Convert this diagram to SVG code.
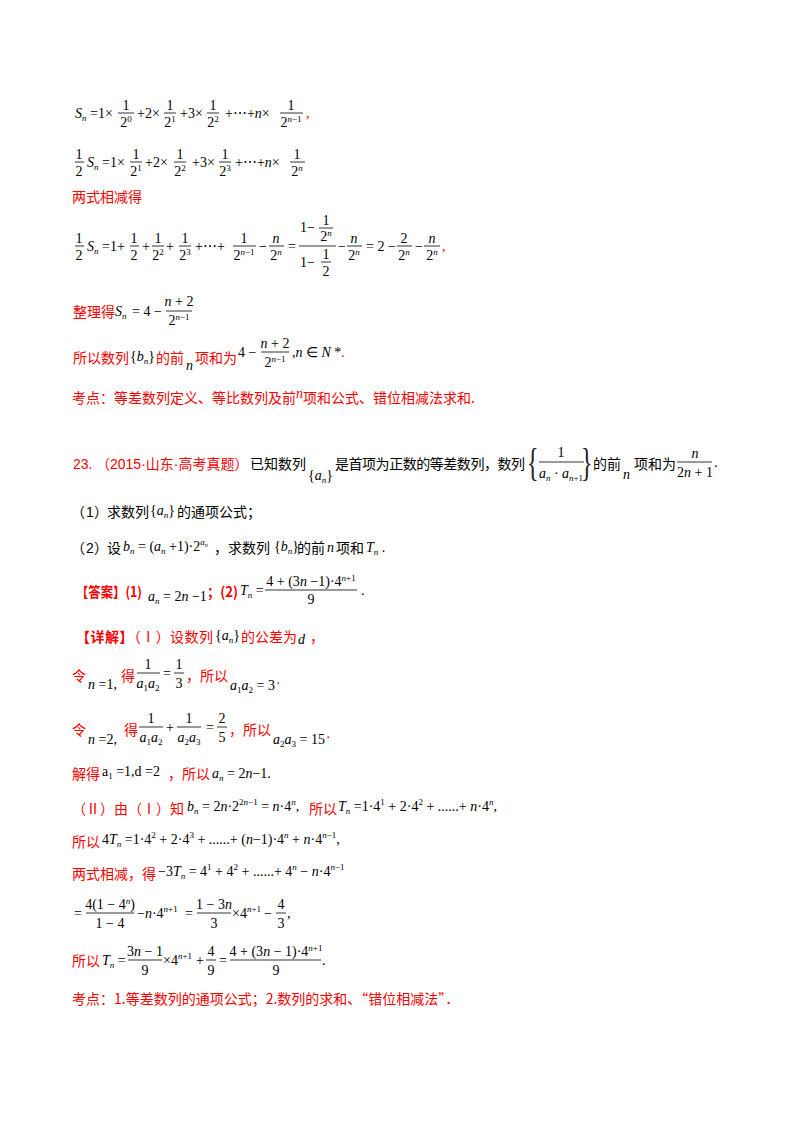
<svg xmlns="http://www.w3.org/2000/svg" width="800" height="1132" viewBox="0 0 800 1132">
<style>
text{font-family:"Liberation Serif",serif;font-size:14px;fill:#000}
.c{font-family:"Noto Sans CJK SC",sans-serif;font-size:14px}
.sa{font-family:"Liberation Sans","Noto Sans CJK SC",sans-serif}
.r{fill:#f00}
.i{font-style:italic}
.s{font-size:9px}
.mid{text-anchor:middle}
line{stroke:#000;stroke-width:0.8}
.bg{font-size:40px;fill:#222}
</style>
<rect width="800" height="1132" fill="#fff"/>
<g id="l1">
<text y="118"><tspan x="75" class="i">S</tspan><tspan class="i s" dy="3">n</tspan><tspan dy="-3" x="90">=1×</tspan><tspan x="137">+2×</tspan><tspan x="180">+3×</tspan><tspan x="225">+⋯+</tspan><tspan class="i">n</tspan><tspan>×</tspan></text>
<line x1="118" y1="113" x2="134" y2="113"/><text class="mid" x="126" y="110">1</text><text class="mid" x="126" y="127">2<tspan class="s" dy="-5">0</tspan></text>
<line x1="164" y1="113" x2="176" y2="113"/><text class="mid" x="170" y="110">1</text><text class="mid" x="170" y="127">2<tspan class="s" dy="-5">1</tspan></text>
<line x1="207" y1="113" x2="219" y2="113"/><text class="mid" x="213" y="110">1</text><text class="mid" x="213" y="127">2<tspan class="s" dy="-5">2</tspan></text>
<line x1="280" y1="113" x2="303" y2="113"/><text class="mid" x="291" y="110">1</text><text class="mid" x="291" y="127">2<tspan class="s i" dy="-5">n</tspan><tspan class="s">−1</tspan></text>
<text class="r" x="306" y="118">,</text>
</g>
<g id="l2">
<line x1="75" y1="162" x2="84" y2="162"/><text class="mid" x="79" y="159">1</text><text class="mid" x="79" y="176">2</text>
<text y="167"><tspan x="87" class="i">S</tspan><tspan class="i s" dy="3">n</tspan><tspan dy="-3" x="102">=1×</tspan><tspan x="145">+2×</tspan><tspan x="192">+3×</tspan><tspan x="235">+⋯+</tspan><tspan class="i">n</tspan><tspan>×</tspan></text>
<line x1="130" y1="162" x2="142" y2="162"/><text class="mid" x="136" y="159">1</text><text class="mid" x="136" y="176">2<tspan class="s" dy="-5">1</tspan></text>
<line x1="174" y1="162" x2="186" y2="162"/><text class="mid" x="180" y="159">1</text><text class="mid" x="180" y="176">2<tspan class="s" dy="-5">2</tspan></text>
<line x1="219" y1="162" x2="231" y2="162"/><text class="mid" x="225" y="159">1</text><text class="mid" x="225" y="176">2<tspan class="s" dy="-5">3</tspan></text>
<line x1="290" y1="162" x2="305" y2="162"/><text class="mid" x="297" y="159">1</text><text class="mid" x="297" y="176">2<tspan class="s i" dy="-5">n</tspan></text>
</g>
<text class="c r" x="72" y="202">两式相减得</text>
<g id="l3">
<line x1="75" y1="246" x2="84" y2="246"/><text class="mid" x="79" y="243">1</text><text class="mid" x="79" y="260">2</text>
<text y="251"><tspan x="87" class="i">S</tspan><tspan class="i s" dy="3">n</tspan><tspan dy="-3" x="102">=1+</tspan><tspan x="142">+</tspan><tspan x="166">+</tspan><tspan x="195">+⋯+</tspan><tspan x="259">−</tspan><tspan x="288">=</tspan><tspan x="338">−</tspan><tspan x="366">= 2 −</tspan><tspan x="415">−</tspan></text>
<line x1="130" y1="246" x2="139" y2="246"/><text class="mid" x="134" y="243">1</text><text class="mid" x="134" y="260">2</text>
<line x1="152" y1="246" x2="164" y2="246"/><text class="mid" x="158" y="243">1</text><text class="mid" x="158" y="260">2<tspan class="s" dy="-5">2</tspan></text>
<line x1="179" y1="246" x2="191" y2="246"/><text class="mid" x="185" y="243">1</text><text class="mid" x="185" y="260">2<tspan class="s" dy="-5">3</tspan></text>
<line x1="233" y1="246" x2="256" y2="246"/><text class="mid" x="244" y="243">1</text><text class="mid" x="244" y="260">2<tspan class="s i" dy="-5">n</tspan><tspan class="s">−1</tspan></text>
<line x1="269" y1="246" x2="284" y2="246"/><text class="mid i" x="276" y="243">n</text><text class="mid" x="276" y="260">2<tspan class="s i" dy="-5">n</tspan></text>
<line x1="299" y1="246" x2="336" y2="246"/>
<text x="300" y="232">1−</text><line x1="319" y1="228" x2="333" y2="228"/><text class="mid" x="326" y="225">1</text><text class="mid" x="326" y="241">2<tspan class="s i" dy="-5">n</tspan></text>
<text x="300" y="267">1−</text><line x1="321" y1="262" x2="331" y2="262"/><text class="mid" x="326" y="259">1</text><text class="mid" x="326" y="276">2</text>
<line x1="347" y1="246" x2="362" y2="246"/><text class="mid i" x="354" y="243">n</text><text class="mid" x="354" y="260">2<tspan class="s i" dy="-5">n</tspan></text>
<line x1="397" y1="246" x2="412" y2="246"/><text class="mid" x="404" y="243">2</text><text class="mid" x="404" y="260">2<tspan class="s i" dy="-5">n</tspan></text>
<line x1="424" y1="246" x2="440" y2="246"/><text class="mid i" x="432" y="243">n</text><text class="mid" x="432" y="260">2<tspan class="s i" dy="-5">n</tspan></text>
<text class="r" x="442" y="251">,</text>
</g>
<g id="l4">
<text class="c r" x="73" y="317">整理得</text>
<text y="316"><tspan x="115" class="i">S</tspan><tspan class="i s" dy="3">n</tspan><tspan dy="-3" x="132">= 4 −</tspan></text>
<line x1="166" y1="311" x2="192" y2="311"/><text class="mid" x="179" y="306"><tspan class="i">n</tspan> + 2</text><text class="mid" x="179" y="325">2<tspan class="s i" dy="-5">n</tspan><tspan class="s">−1</tspan></text>
</g>
<g id="l5">
<text class="c r" x="73" y="363">所以数列</text>
<text x="130" y="361">{<tspan class="i">b</tspan><tspan class="i s" dy="3">n</tspan><tspan dy="-3">}</tspan></text>
<text class="c r" x="156" y="363">的前</text>
<text class="i" x="186" y="370">n</text>
<text class="c r" x="195" y="363">项和为</text>
<text x="238" y="357">4 −</text>
<line x1="261" y1="352" x2="289" y2="352"/><text class="mid" x="275" y="348"><tspan class="i">n</tspan> + 2</text><text class="mid" x="275" y="367">2<tspan class="s i" dy="-5">n</tspan><tspan class="s">−1</tspan></text>
<text x="292" y="357">,<tspan class="i">n</tspan> ∈ <tspan class="i">N</tspan> *<tspan class="r">.</tspan></text>
</g>
<text id="kd1" class="c r" x="72" y="403">考点：等差数列定义、等比数列及前<tspan font-family="Liberation Serif" font-style="italic" dy="-5">n</tspan><tspan dy="5">项和公式、错位相减法求和.</tspan></text>
<g id="q23">
<text class="sa r" x="73" y="469" font-size="14">23.</text>
<text class="sa r" x="96" y="469" font-size="14">（2015·山东·高考真题）</text>
<text class="c" x="250" y="469">已知数列</text>
<text x="308" y="480">{<tspan class="i">a</tspan><tspan class="i s" dy="3">n</tspan><tspan dy="-3">}</tspan></text>
<text class="c" x="335" y="469" textLength="190">是首项为正数的等差数列，数列</text>
<text class="bg" transform="translate(527 476) scale(0.6 1)">{</text><text class="bg" transform="translate(581 476) scale(0.6 1)">}</text>
<line x1="539" y1="462" x2="584" y2="462"/><text class="mid" x="561" y="457">1</text><text class="mid" x="561" y="478"><tspan class="i">a</tspan><tspan class="i s" dy="3">n</tspan><tspan dy="-3"> · </tspan><tspan class="i">a</tspan><tspan class="s" dy="3"><tspan class="i">n</tspan>+1</tspan></text>
<text class="c" x="593" y="469">的前</text>
<text class="i" x="623" y="479">n</text>
<text class="c" x="634" y="469">项和为</text>
<line x1="677" y1="462" x2="712" y2="462"/><text class="mid i" x="695" y="458">n</text><text class="mid" x="695" y="477">2<tspan class="i">n</tspan> + 1</text>
<text x="714" y="467">.</text>
</g>
<g id="q1">
<text class="c" x="71" y="517">（</text><text class="sa" x="86" y="517">1</text><text class="c" x="94" y="517">）</text>
<text class="c" x="107" y="517">求数列</text>
<text x="150" y="515">{<tspan class="i">a</tspan><tspan class="i s" dy="3">n</tspan><tspan dy="-3">}</tspan></text>
<text class="c" x="177" y="517">的通项公式；</text>
</g>
<g id="q2">
<text class="c" x="71" y="553">（</text><text class="sa" x="86" y="553">2</text><text class="c" x="94" y="553">）</text>
<text class="c" x="107" y="553">设</text>
<text x="123" y="551"><tspan class="i">b</tspan><tspan class="i s" dy="3">n</tspan><tspan dy="-3"> = (</tspan><tspan class="i">a</tspan><tspan class="i s" dy="3">n</tspan><tspan dy="-3"> +1)·2</tspan><tspan class="i s" dy="-6">a</tspan><tspan class="i" font-size="6" dy="2">n</tspan></text>
<text class="c" x="214" y="553">，求数列</text>
<text x="274" y="551">{<tspan class="i">b</tspan><tspan class="i s" dy="3">n</tspan><tspan dy="-3">}</tspan></text>
<text class="c" x="297" y="553">的前</text>
<text class="i" x="327" y="552">n</text>
<text class="c" x="336" y="553">项和</text>
<text x="366" y="552"><tspan class="i">T</tspan><tspan class="i s" dy="3">n</tspan><tspan dy="-3"> .</tspan></text>
</g>
<g id="ans">
<text class="c r" x="76" y="597" font-weight="bold" textLength="66" lengthAdjust="spacingAndGlyphs">【答案】(1)</text>
<text x="148" y="601"><tspan class="i">a</tspan><tspan class="i s" dy="3">n</tspan><tspan dy="-3"> = 2</tspan><tspan class="i">n</tspan> −1</text>
<text class="c r" x="207" y="597" font-weight="bold" textLength="31" lengthAdjust="spacingAndGlyphs">；(2)</text>
<text x="240" y="595"><tspan class="i">T</tspan><tspan class="i s" dy="3">n</tspan><tspan dy="-3"> =</tspan></text>
<line x1="265" y1="590" x2="357" y2="590"/><text class="mid" x="311" y="586">4 + (3<tspan class="i">n</tspan> −1)·4<tspan class="s" dy="-5"><tspan class="i">n</tspan>+1</tspan></text><text class="mid" x="311" y="604">9</text>
<text x="361" y="595">.</text>
</g>
<g id="xj">
<text class="c r" x="76" y="642" textLength="137" lengthAdjust="spacing"><tspan font-weight="bold">【详解】</tspan>（Ⅰ）设数列</text>
<text x="215" y="640">{<tspan class="i">a</tspan><tspan class="i s" dy="3">n</tspan><tspan dy="-3">}</tspan></text>
<text class="c r" x="241" y="642">的公差为</text>
<text x="298" y="644" font-family="Liberation Sans" font-style="italic" font-size="18">d</text>
<text class="c r" x="310" y="642">，</text>
</g>
<g id="n1">
<text class="c r" x="72" y="681">令</text>
<text x="88" y="689"><tspan class="i">n</tspan> =1,</text>
<text class="c r" x="121" y="681">得</text>
<line x1="137" y1="673" x2="160" y2="673"/><text class="mid" x="148" y="669">1</text><text class="mid" x="148" y="688"><tspan class="i">a</tspan><tspan class="s" dy="3">1</tspan><tspan class="i" dy="-3">a</tspan><tspan class="s" dy="3">2</tspan></text>
<text x="163" y="678">=</text>
<line x1="174" y1="673" x2="184" y2="673"/><text class="mid" x="179" y="669">1</text><text class="mid" x="179" y="688">3</text>
<text class="c r" x="186" y="681">，所以</text>
<text x="230" y="690"><tspan class="i">a</tspan><tspan class="s" dy="3">1</tspan><tspan class="i" dy="-3">a</tspan><tspan class="s" dy="3">2</tspan><tspan dy="-3"> = 3</tspan></text>
<text class="r" x="276" y="688">·</text>
</g>
<g id="n2">
<text class="c r" x="72" y="735">令</text>
<text x="88" y="744"><tspan class="i">n</tspan> =2,</text>
<text class="c r" x="124" y="735">得</text>
<line x1="139" y1="727" x2="163" y2="727"/><text class="mid" x="151" y="723">1</text><text class="mid" x="151" y="742"><tspan class="i">a</tspan><tspan class="s" dy="3">1</tspan><tspan class="i" dy="-3">a</tspan><tspan class="s" dy="3">2</tspan></text>
<text x="166" y="732">+</text>
<line x1="177" y1="727" x2="201" y2="727"/><text class="mid" x="189" y="723">1</text><text class="mid" x="189" y="742"><tspan class="i">a</tspan><tspan class="s" dy="3">2</tspan><tspan class="i" dy="-3">a</tspan><tspan class="s" dy="3">3</tspan></text>
<text x="206" y="732">=</text>
<line x1="217" y1="727" x2="227" y2="727"/><text class="mid" x="222" y="723">2</text><text class="mid" x="222" y="742">5</text>
<text class="c r" x="229" y="735">，所以</text>
<text x="273" y="744"><tspan class="i">a</tspan><tspan class="s" dy="3">2</tspan><tspan class="i" dy="-3">a</tspan><tspan class="s" dy="3">3</tspan><tspan dy="-3"> = 15</tspan></text>
<text class="r" x="326" y="742">·</text>
</g>
<g id="jd">
<text class="c r" x="72" y="779">解得</text>
<text x="102" y="776">a<tspan class="s" dy="3">1</tspan><tspan dy="-3"> =1,d =2</tspan></text>
<text class="c r" x="168" y="779">，所以</text>
<text x="212" y="778"><tspan class="i">a</tspan><tspan class="i s" dy="3">n</tspan><tspan dy="-3"> = 2</tspan><tspan class="i">n</tspan>−1.</text>
</g>
<g id="p2">
<text class="c r" x="72" y="814">（Ⅱ）由（Ⅰ）知</text>
<text x="187" y="811"><tspan class="i">b</tspan><tspan class="i s" dy="3">n</tspan><tspan dy="-3"> = 2</tspan><tspan class="i">n</tspan>·2<tspan class="s" dy="-6">2<tspan class="i">n</tspan>−1</tspan><tspan dy="6"> = </tspan><tspan class="i">n</tspan>·4<tspan class="s i" dy="-6">n</tspan><tspan dy="6">,</tspan></text>
<text class="c r" x="309" y="814">所以</text>
<text x="338" y="811"><tspan class="i">T</tspan><tspan class="i s" dy="3">n</tspan><tspan dy="-3"> =1·4</tspan><tspan class="s" dy="-6">1</tspan><tspan dy="6"> + 2·4</tspan><tspan class="s" dy="-6">2</tspan><tspan dy="6"> + ......+ </tspan><tspan class="i">n</tspan>·4<tspan class="s i" dy="-6">n</tspan><tspan dy="6">,</tspan></text>
</g>
<g id="p3">
<text class="c r" x="72" y="847">所以</text>
<text x="102" y="844">4<tspan class="i">T</tspan><tspan class="i s" dy="3">n</tspan><tspan dy="-3"> =1·4</tspan><tspan class="s" dy="-6">2</tspan><tspan dy="6"> + 2·4</tspan><tspan class="s" dy="-6">3</tspan><tspan dy="6"> + ......+ (</tspan><tspan class="i">n</tspan>−1)·4<tspan class="s i" dy="-6">n</tspan><tspan dy="6"> + </tspan><tspan class="i">n</tspan>·4<tspan class="s" dy="-6"><tspan class="i">n</tspan>−1</tspan><tspan dy="6">,</tspan></text>
</g>
<g id="p4">
<text class="c r" x="72" y="879">两式相减，得</text>
<text x="158" y="876">−3<tspan class="i">T</tspan><tspan class="i s" dy="3">n</tspan><tspan dy="-3"> = 4</tspan><tspan class="s" dy="-6">1</tspan><tspan dy="6"> + 4</tspan><tspan class="s" dy="-6">2</tspan><tspan dy="6"> + ......+ 4</tspan><tspan class="s i" dy="-6">n</tspan><tspan dy="6"> − </tspan><tspan class="i">n</tspan>·4<tspan class="s" dy="-6"><tspan class="i">n</tspan>−1</tspan></text>
</g>
<g id="p5">
<text x="74" y="918">=</text>
<line x1="86" y1="913" x2="134" y2="913"/><text class="mid" x="110" y="909">4(1 − 4<tspan class="s i" dy="-5">n</tspan><tspan dy="5">)</tspan></text><text class="mid" x="110" y="928">1 − 4</text>
<text x="137" y="918">−<tspan class="i">n</tspan>·4<tspan class="s" dy="-6"><tspan class="i">n</tspan>+1</tspan></text>
<text x="185" y="918">=</text>
<line x1="197" y1="913" x2="231" y2="913"/><text class="mid" x="214" y="909">1 − 3<tspan class="i">n</tspan></text><text class="mid" x="214" y="928">3</text>
<text x="232" y="918">×4<tspan class="s" dy="-6"><tspan class="i">n</tspan>+1</tspan></text>
<text x="264" y="918">−</text>
<line x1="276" y1="913" x2="286" y2="913"/><text class="mid" x="281" y="909">4</text><text class="mid" x="281" y="928">3</text>
<text x="287" y="918">,</text>
</g>
<g id="p6">
<text class="c r" x="72" y="966">所以</text>
<text x="102" y="965"><tspan class="i">T</tspan><tspan class="i s" dy="3">n</tspan><tspan dy="-3"> =</tspan></text>
<line x1="128" y1="960" x2="162" y2="960"/><text class="mid" x="145" y="956">3<tspan class="i">n</tspan> − 1</text><text class="mid" x="145" y="975">9</text>
<text x="163" y="965">×4<tspan class="s" dy="-6"><tspan class="i">n</tspan>+1</tspan></text>
<text x="196" y="965">+</text>
<line x1="206" y1="960" x2="216" y2="960"/><text class="mid" x="211" y="956">4</text><text class="mid" x="211" y="975">9</text>
<text x="219" y="965">=</text>
<line x1="230" y1="960" x2="321" y2="960"/><text class="mid" x="276" y="956">4 + (3<tspan class="i">n</tspan> − 1)·4<tspan class="s" dy="-5"><tspan class="i">n</tspan>+1</tspan></text><text class="mid" x="276" y="975">9</text>
<text x="322" y="965">.</text>
</g>
<text id="kd2" class="c r" x="72" y="1004">考点：1.等差数列的通项公式；2.数列的求和、“错位相减法”．</text>
</svg>
